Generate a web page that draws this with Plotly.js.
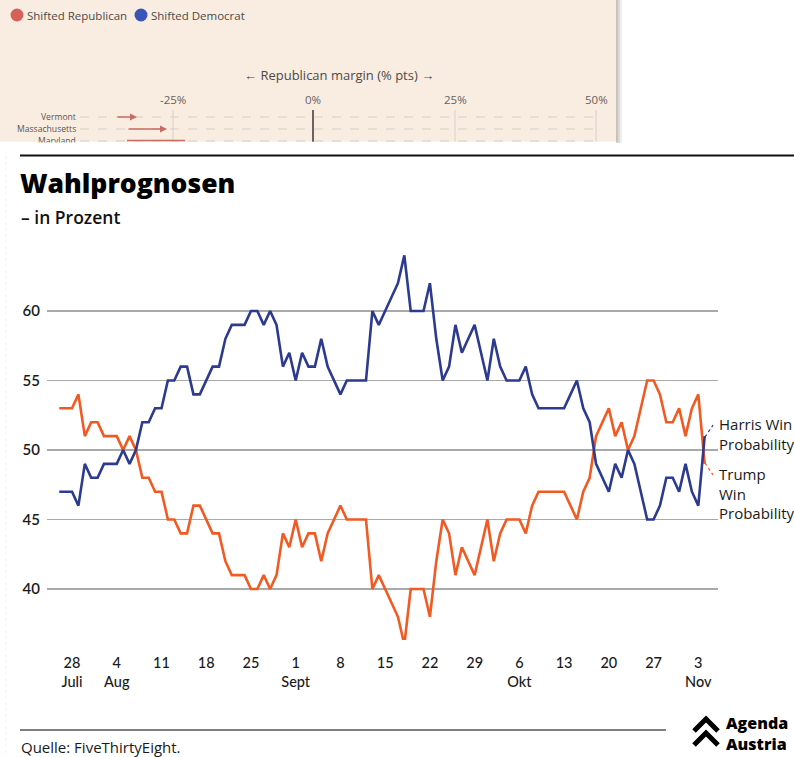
<!DOCTYPE html>
<html><head><meta charset="utf-8">
<script src="https://cdn.plot.ly/plotly-3.0.1.min.js"></script>
<style>html,body{margin:0;padding:0;background:#fff;overflow:hidden;} #chart{width:794px;height:757px;}</style>
</head><body><div id="chart"></div>
<script>
// ---- data (daily, from 26 Jul 2024) ----
const startDate = '2024-07-26';
const harris = [47,47,47,46,49,48,48,49,49,49,50,49,50,52,52,53,53,55,55,56,56,54,54,55,56,56,58,59,59,59,
  60,60,59,60,59,56,57,55,57,56,56,58,56,55,54,55,55,55,55,60,59,60,61,62,64,60,60,60,62,58,
  55,56,59,57,58,59,57,55,58,56,55,55,55,56,54,53,53,53,53,53,54,55,53,52,49,48,47,49,48,50,
  49,47,45,45,46,48,48,47,49,47,46,51];
const trump = [53,53,53,54,51,52,52,51,51,51,50,51,50,48,48,47,47,45,45,44,44,46,46,45,44,44,42,41,41,41,
  40,40,41,40,41,44,43,45,43,44,44,42,44,45,46,45,45,45,45,40,41,40,39,38,36,40,40,40,38,42,
  45,44,41,43,42,41,43,45,42,44,45,45,45,44,46,47,47,47,47,47,46,45,47,48,51,52,53,51,52,50,
  51,53,55,55,54,52,52,53,51,53,54,49];
const tickDates = ['2024-07-28','2024-08-04','2024-08-11','2024-08-18','2024-08-25','2024-09-01','2024-09-08',
  '2024-09-15','2024-09-22','2024-09-29','2024-10-06','2024-10-13','2024-10-20','2024-10-27','2024-11-03'];
const tickLabels = ['28<br>Juli','4<br>Aug','11','18','25','1<br>Sept','8','15','22','29','6<br>Okt','13','20','27','3<br>Nov'];
const yTicks = [40,45,50,55,60];
const seriesNames = ['Harris Win<br>Probability','Trump<br>Win<br>Probability'];

// FT header snippet (cropped image at top)
const ftLegend = ['Shifted Republican','Shifted Democrat'];
const ftTicks = ['-25%','0%','25%','50%'];
const ftRows = ['Vermont','Massachusetts','Maryland'];

function dates(n){
  const out=[]; const d0=new Date(startDate+'T00:00:00Z');
  for(let i=0;i<n;i++){ const d=new Date(d0.getTime()+i*86400000); out.push(d.toISOString().slice(0,10)); }
  return out;
}
const xs = dates(harris.length);

const BLUE='#2c3a8f', ORANGE='#f15a22';
const L=47,R=718,T=240,B=640;
const X=p=>(p-L)/(R-L);
const Y=p=>(B-p)/(B-T);
const FONT='Lato, "Open Sans", sans-serif';
const OS='"Open Sans", Lato, sans-serif';
const FTFONT='"Open Sans", Roboto, sans-serif';

const traces=[
  {x:xs,y:trump,type:'scatter',mode:'lines',line:{color:ORANGE,width:2.6},hoverinfo:'skip',showlegend:false},
  {x:xs,y:harris,type:'scatter',mode:'lines',line:{color:BLUE,width:2.6},hoverinfo:'skip',showlegend:false}
];

const shapes=[];
const ann=[];
function pline(x0,y0,x1,y1,color,width,dash,layer){
  shapes.push({type:'line',xref:'paper',yref:'paper',x0:X(x0),y0:Y(y0),x1:X(x1),y1:Y(y1),
    line:{color:color,width:width,dash:dash||'solid'},layer:layer||'above'});
}
function prect(x0,y0,x1,y1,fill){
  shapes.push({type:'rect',xref:'paper',yref:'paper',x0:X(x0),y0:Y(y1),x1:X(x1),y1:Y(y0),
    fillcolor:fill,line:{width:0},layer:'below'});
}
function ptext(text,x,y,size,opts){
  ann.push(Object.assign({text:text,xref:'paper',yref:'paper',x:X(x),y:Y(y),showarrow:false,
    xanchor:'left',yanchor:'middle',align:'left',font:{family:FONT,size:size,color:'#1a1a1a'}},opts||{}));
}

// ---- FT header snippet ----
prect(0,0,616,141.7,'#f9ece1');
prect(616,0,618,143,'#c8c3be');
prect(618,0,620,143,'#dcd9d6');
prect(620,0,622,143,'#eeeeee');
shapes.push({type:'circle',xref:'paper',yref:'paper',x0:X(10.5),x1:X(23.5),y0:Y(21.5),y1:Y(8.5),fillcolor:'#d6615a',line:{width:0}});
shapes.push({type:'circle',xref:'paper',yref:'paper',x0:X(134.5),x1:X(147.5),y0:Y(21.5),y1:Y(8.5),fillcolor:'#3a55b5',line:{width:0}});
ptext(ftLegend[0],25,15,11.5,{font:{family:FTFONT,size:11.5,color:'#4d4a48'}});
ptext(ftLegend[1],149,15,11.5,{font:{family:FTFONT,size:11.5,color:'#4d4a48'}});
ptext('\u2190 Republican margin (% pts) \u2192',339,75,13,{xanchor:'center',font:{family:FTFONT,size:13,color:'#4d4a48'}});
const ftTickX=[173,313,455,596];
ftTicks.forEach((t,i)=>ptext(t,ftTickX[i],99,11.5,{xanchor:'center',font:{family:FTFONT,size:11.5,color:'#66605c'}}));
const ftRowY=[117,129,141];
ftRowY.forEach(y=>pline(80,y,600,y,'#d8cec4',1,'dash','below'));
ftTickX.forEach((x,i)=>pline(x,110,x,141.7,i===1?'#3a3633':'#d9d0c6',i===1?1.5:1,'solid','below'));
ftRows.forEach((t,i)=>ptext(t,78,ftRowY[i],8.6,{xanchor:'right',font:{family:FTFONT,size:8.6,color:'#5b5653'}}));
// arrows
ann.push({text:'',xref:'paper',yref:'paper',x:X(137),y:Y(117),ax:-21,ay:0,showarrow:true,arrowhead:2,arrowsize:1,arrowwidth:1.4,arrowcolor:'#c96a63'});
ann.push({text:'',xref:'paper',yref:'paper',x:X(167),y:Y(129),ax:-40,ay:0,showarrow:true,arrowhead:2,arrowsize:1,arrowwidth:1.4,arrowcolor:'#c96a63'});
pline(127,140.5,185,140.5,'#c96a63',1.4,'solid','below');
// crop cover
ann.push({text:' ',xref:'paper',yref:'paper',x:X(0),y:Y(141.8),xanchor:'left',yanchor:'top',showarrow:false,
  width:616,height:9,bgcolor:'#ffffff',borderpad:0,font:{size:6}});

// ---- main chart decorations ----
pline(20,155.5,794,155.5,'#111',2);
ptext('Wahlprognosen',18,183,26.5,{font:{family:OS,size:26.5,color:'#000',weight:800}});
ptext('\u2013 in Prozent',19,217,17.5,{font:{family:OS,size:17.5,color:'#111',weight:600}});
shapes.push({type:'line',xref:'paper',yref:'y',x0:0,x1:1,y0:50,y1:50,line:{color:'#111',width:1.5},layer:'below'});
// labels at the right
ptext(seriesNames[0],717,434,15,{font:{family:OS,size:15,color:'#1a1a1a',weight:500}});
ptext(seriesNames[1],717,493,15,{font:{family:OS,size:15,color:'#1a1a1a',weight:500}});
pline(705,437,713,425,BLUE,1.3,'dot');
pline(705,463,713,475,ORANGE,1.3,'dot');
// footer
pline(20,730,666,730,'#555',1.5);
ptext('Quelle: FiveThirtyEight.',19,747,15,{font:{family:OS,size:15,color:'#1a1a1a',weight:500}});
function path(pts){return pts.map((p,i)=>(i?'L':'M')+X(p[0]).toFixed(5)+','+Y(p[1]).toFixed(5)).join(' ');}
shapes.push({type:'path',xref:'paper',yref:'paper',path:path([[694,731],[706,719],[718,731]]),line:{color:'#000',width:5}});
shapes.push({type:'path',xref:'paper',yref:'paper',path:path([[694,745],[706,733],[718,745]]),line:{color:'#000',width:5}});
ann.push({text:'Agenda<br>Austria',xref:'paper',yref:'paper',x:X(725),y:Y(733),xanchor:'left',yanchor:'middle',align:'left',showarrow:false,borderpad:0,
  font:{family:OS,size:16,color:'#000',weight:800}});
pline(6,150,6,757,'#f0f0f0',1,'dot','below');

const layout={
  width:794,height:757,
  margin:{l:L,r:794-R,t:T,b:757-B,pad:0},
  paper_bgcolor:'#ffffff',plot_bgcolor:'rgba(0,0,0,0)',
  showlegend:false,
  xaxis:{type:'date',range:['2024-07-24 02:00','2024-11-06 02:00'],tickvals:tickDates,ticktext:tickLabels,
    showgrid:false,zeroline:false,showline:false,ticks:'outside',ticklen:10,tickcolor:'rgba(0,0,0,0)',
    tickfont:{family:FONT,size:14.5,color:'#1a1a1a',weight:500},fixedrange:true},
  yaxis:{range:[36.331,65.108],tickvals:yTicks,ticktext:yTicks.map(String),showgrid:true,gridcolor:'#a9a9a9',gridwidth:1.5,
    zeroline:false,showline:false,ticks:'',ticklabelstandoff:6,
    tickfont:{family:FONT,size:15,color:'#1a1a1a',weight:600},fixedrange:true},
  shapes:shapes,annotations:ann
};
Plotly.newPlot('chart',traces,layout,{staticPlot:true,displayModeBar:false});
</script></body></html>
